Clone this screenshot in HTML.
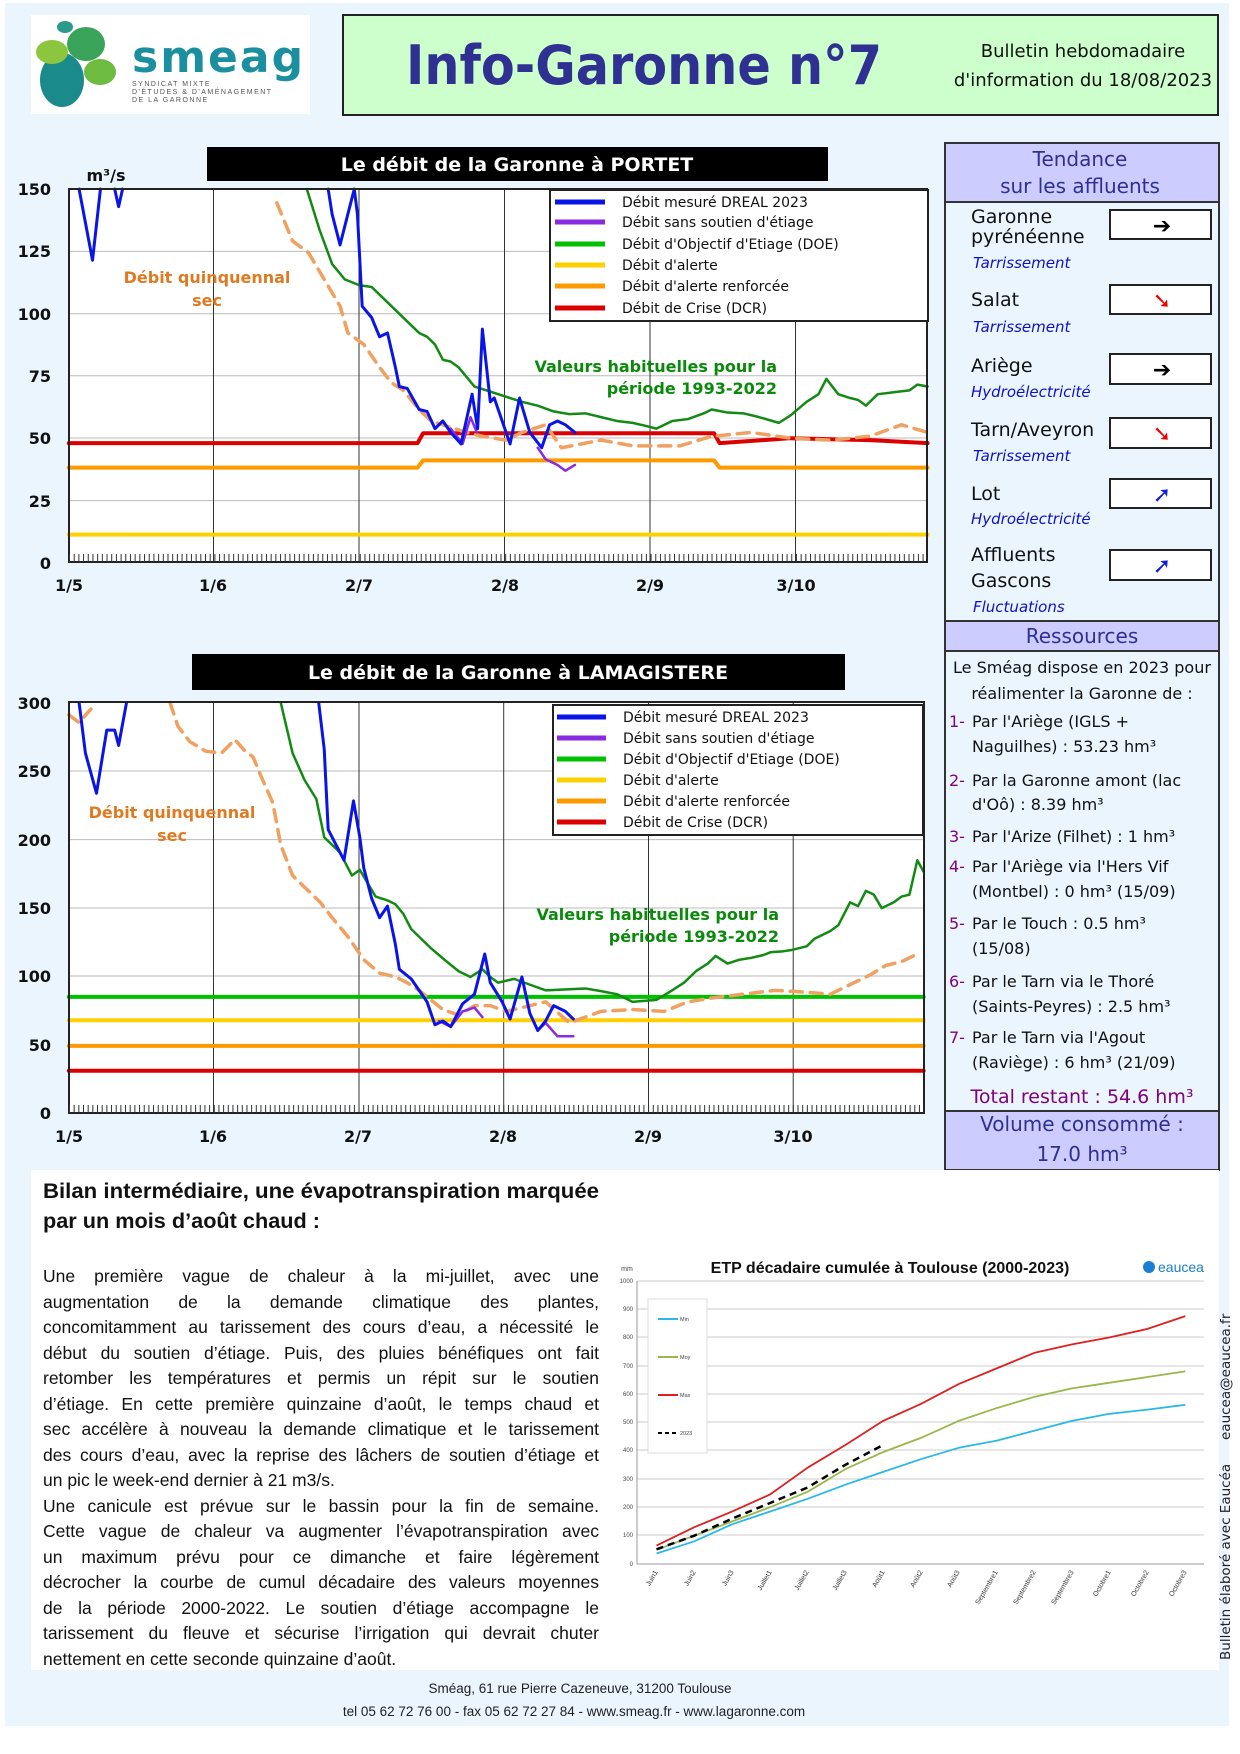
<!DOCTYPE html>
<html><head><meta charset="utf-8">
<style>
html,body{margin:0;padding:0;background:#fff;}
body{width:1240px;height:1754px;position:relative;overflow:hidden;font-family:"Liberation Sans",sans-serif;}
svg{position:absolute;left:0;top:0;}
.para{position:absolute;left:43px;top:1264px;width:556px;font-family:"Liberation Sans",sans-serif;font-size:17.5px;color:#111;}
.para div{height:25.5px;line-height:25.5px;text-align:justify;text-align-last:justify;white-space:nowrap;}
.para div.l{text-align-last:left;}
</style></head><body>
<svg width="1240" height="1754" viewBox="0 0 1240 1754" xmlns="http://www.w3.org/2000/svg" font-family="Liberation Sans, sans-serif">
<rect x="5" y="3" width="1224" height="1723" fill="#eaf5fd"/>
<!-- logo -->
<rect x="31" y="15" width="279" height="99" fill="#fff"/>
<ellipse cx="62" cy="80" rx="22" ry="27" fill="#1a8a8a"/>
<ellipse cx="52" cy="52" rx="16" ry="12" fill="#8cc63f"/>
<ellipse cx="86" cy="44" rx="19" ry="17" fill="#3aa35a"/>
<ellipse cx="100" cy="72" rx="16" ry="13" fill="#6dbb3f"/>
<ellipse cx="65" cy="27" rx="8" ry="6" fill="#2a9a8a"/>
<text x="132" y="72" font-family="DejaVu Sans, sans-serif" font-size="44" font-weight="bold" fill="#1b8fa0" letter-spacing="2">smeag</text>
<text x="132" y="86" font-size="7" fill="#555" letter-spacing="1.5">SYNDICAT MIXTE</text>
<text x="132" y="94" font-size="7" fill="#555" letter-spacing="1.5">D'ÉTUDES &amp; D'AMÉNAGEMENT</text>
<text x="132" y="102" font-size="7" fill="#555" letter-spacing="1.5">DE LA GARONNE</text>
<!-- title box -->
<rect x="343" y="15" width="875" height="100" fill="#ccffcc" stroke="#222" stroke-width="2"/>
<text x="406" y="84" textLength="476" lengthAdjust="spacingAndGlyphs" font-family="DejaVu Sans, sans-serif" font-size="54" font-weight="bold" fill="#2e3192">Info-Garonne n°7</text>
<text x="1083" y="57" text-anchor="middle" font-family="DejaVu Sans, sans-serif" font-size="18" fill="#111">Bulletin hebdomadaire</text>
<text x="1083" y="86" text-anchor="middle" font-family="DejaVu Sans, sans-serif" font-size="18" fill="#111">d'information du 18/08/2023</text>

<!-- ===== Chart 1 ===== -->
<rect x="207" y="147" width="621" height="34" fill="#000"/>
<text x="517" y="171" text-anchor="middle" font-family="DejaVu Sans, sans-serif" font-size="19" font-weight="bold" fill="#fff">Le débit de la Garonne à PORTET</text>
<rect x="69" y="189" width="858" height="373" fill="#fff"/>
<g stroke="#bbb" stroke-width="1">
<line x1="69" y1="251.4" x2="927" y2="251.4"/><line x1="69" y1="313.8" x2="927" y2="313.8"/><line x1="69" y1="375.8" x2="927" y2="375.8"/><line x1="69" y1="438" x2="927" y2="438"/><line x1="69" y1="500.6" x2="927" y2="500.6"/>
</g>
<g stroke="#333" stroke-width="1">
<line x1="213.5" y1="189" x2="213.5" y2="562"/><line x1="359" y1="189" x2="359" y2="562"/><line x1="504.5" y1="189" x2="504.5" y2="562"/><line x1="650" y1="189" x2="650" y2="562"/><line x1="795.5" y1="189" x2="795.5" y2="562"/>
</g>
<g transform="scale(0.7908 0.3827)" fill="none" stroke-linejoin="round" stroke-linecap="round">
<polyline vector-effect="non-scaling-stroke" stroke="#ffd000" stroke-width="4" points="87,1397 1173,1397"/>
<polyline vector-effect="non-scaling-stroke" stroke="#ff9900" stroke-width="4" points="87,1222 528,1222 535,1203 903,1203 910,1222 1173,1222"/>
<polyline vector-effect="non-scaling-stroke" stroke="#dd0000" stroke-width="4" points="87,1158 528,1158 535,1132 903,1132 910,1158 1000,1145 1100,1150 1173,1158"/>
<polyline vector-effect="non-scaling-stroke" stroke="#f0a060" stroke-width="3.5" stroke-dasharray="12,8" points="350,530 370,630 390,660 410,730 430,800 440,870 460,900 480,960 495,1000 510,1020 530,1070 545,1100 560,1110 590,1130 610,1140 640,1150 660,1130 690,1110 710,1170 760,1150 800,1165 860,1165 900,1140 950,1130 1000,1145 1050,1150 1100,1140 1140,1110 1173,1130"/>
<polyline vector-effect="non-scaling-stroke" stroke="#138a13" stroke-width="2.5" points="388,494 404,600 420,690 436,730 454,745 470,750 490,790 505,820 520,850 530,870 540,880 550,900 560,940 570,945 580,960 590,985 600,1010 615,1020 630,1030 645,1040 660,1050 680,1060 700,1075 720,1082 740,1080 760,1090 780,1100 800,1105 815,1112 830,1120 850,1100 870,1095 890,1080 900,1070 920,1078 940,1080 960,1090 985,1105 1000,1085 1020,1050 1035,1030 1045,990 1060,1030 1075,1040 1085,1045 1095,1060 1110,1030 1130,1025 1150,1020 1160,1005 1173,1010"/>
<polyline vector-effect="non-scaling-stroke" stroke="#8a2be2" stroke-width="2.5" points="570,1120 585,1160 595,1090 603,1130"/>
<polyline vector-effect="non-scaling-stroke" stroke="#8a2be2" stroke-width="2.5" points="680,1170 690,1200 705,1215 715,1230 727,1215"/>
<polyline vector-effect="non-scaling-stroke" stroke="#0a14e6" stroke-width="3" points="100,494 117,680 127,494"/>
<polyline vector-effect="non-scaling-stroke" stroke="#0a14e6" stroke-width="3" points="145,494 150,540 155,494"/>
<polyline vector-effect="non-scaling-stroke" stroke="#0a14e6" stroke-width="3" points="415,494 420,560 430,640 448,494 452,560 458,800 470,830 480,880 490,870 500,960 505,1010 515,1015 530,1070 540,1075 550,1120 560,1100 570,1130 583,1160 597,1030 604,1120 610,860 620,1050 625,1040 645,1160 657,1040 670,1130 685,1170 695,1110 705,1100 715,1110 727,1130"/>
</g>
<rect x="69" y="189" width="858" height="373" fill="none" stroke="#222" stroke-width="2"/>
<line x1="69" y1="558" x2="927" y2="558" stroke="#333" stroke-width="8" stroke-dasharray="1,3.69"/>
<g font-family="DejaVu Sans, sans-serif" font-size="16" font-weight="bold" fill="#111" text-anchor="end">
<text x="51" y="195">150</text><text x="51" y="257">125</text><text x="51" y="320">100</text><text x="51" y="382">75</text><text x="51" y="444">50</text><text x="51" y="507">25</text><text x="51" y="569">0</text>
</g>
<g font-family="DejaVu Sans, sans-serif" font-size="16" font-weight="bold" fill="#111" text-anchor="middle">
<text x="69" y="591">1/5</text><text x="213" y="591">1/6</text><text x="359" y="591">2/7</text><text x="505" y="591">2/8</text><text x="650" y="591">2/9</text><text x="796" y="591">3/10</text>
<text x="106" y="181">m³/s</text>
</g>
<rect x="550" y="190" width="378" height="131" fill="#fff" stroke="#222" stroke-width="2"/>
<g stroke-width="5"><line x1="555" y1="202" x2="605" y2="202" stroke="#0a14e6"/><line x1="555" y1="222" x2="605" y2="222" stroke="#8a2be2"/><line x1="555" y1="244" x2="605" y2="244" stroke="#00c000"/><line x1="555" y1="265" x2="605" y2="265" stroke="#ffd000"/><line x1="555" y1="286" x2="605" y2="286" stroke="#ff9900"/><line x1="555" y1="308" x2="605" y2="308" stroke="#dd0000"/></g>
<g font-family="DejaVu Sans, sans-serif" font-size="14" fill="#111">
<text x="622" y="207">Débit mesuré DREAL 2023</text><text x="622" y="227">Débit sans soutien d'étiage</text><text x="622" y="249">Débit d'Objectif d'Etiage (DOE)</text><text x="622" y="270">Débit d'alerte</text><text x="622" y="291">Débit d'alerte renforcée</text><text x="622" y="313">Débit de Crise (DCR)</text>
</g>
<g font-family="DejaVu Sans, sans-serif" font-size="16" font-weight="bold" text-anchor="middle" fill="#e07a20">
<text x="207" y="283">Débit quinquennal</text><text x="207" y="306">sec</text></g>
<g font-family="DejaVu Sans, sans-serif" font-size="16" font-weight="bold" text-anchor="end" fill="#0a8a0a">
<text x="777" y="372">Valeurs habituelles pour la</text><text x="777" y="394">période 1993-2022</text></g>

<!-- ===== Chart 2 ===== -->
<rect x="192" y="654" width="653" height="36" fill="#000"/>
<text x="518" y="679" text-anchor="middle" font-family="DejaVu Sans, sans-serif" font-size="19" font-weight="bold" fill="#fff">Le débit de la Garonne à LAMAGISTERE</text>
<rect x="69" y="702" width="855" height="411" fill="#fff"/>
<g stroke="#bbb" stroke-width="1">
<line x1="69" y1="771" x2="924" y2="771"/><line x1="69" y1="839.6" x2="924" y2="839.6"/><line x1="69" y1="908" x2="924" y2="908"/><line x1="69" y1="976" x2="924" y2="976"/><line x1="69" y1="1044.7" x2="924" y2="1044.7"/>
</g>
<g stroke="#333" stroke-width="1">
<line x1="213.5" y1="702" x2="213.5" y2="1113"/><line x1="359" y1="702" x2="359" y2="1113"/><line x1="503.7" y1="702" x2="503.7" y2="1113"/><line x1="648.5" y1="702" x2="648.5" y2="1113"/><line x1="793.2" y1="702" x2="793.2" y2="1113"/>
</g>
<g transform="translate(0 600) scale(0.7908 0.3827)" fill="none" stroke-linejoin="round" stroke-linecap="round">
<polyline vector-effect="non-scaling-stroke" stroke="#00c000" stroke-width="4" points="87,1037 1168,1037"/>
<polyline vector-effect="non-scaling-stroke" stroke="#ffd000" stroke-width="4" points="87,1098 1168,1098"/>
<polyline vector-effect="non-scaling-stroke" stroke="#ff9900" stroke-width="4" points="87,1165 1168,1165"/>
<polyline vector-effect="non-scaling-stroke" stroke="#dd0000" stroke-width="4" points="87,1230 1168,1230"/>
<polyline vector-effect="non-scaling-stroke" stroke="#f0a060" stroke-width="3.5" stroke-dasharray="12,8" points="87,300 100,320 115,285"/>
<polyline vector-effect="non-scaling-stroke" stroke="#f0a060" stroke-width="3.5" stroke-dasharray="12,8" points="215,268 225,330 240,370 260,395 280,400 297,365 310,395 320,410 330,460 345,530 355,640 370,720 390,760 405,790 420,830 440,880 460,940 480,975 500,985 515,1000 530,1020 560,1070 580,1085 600,1060 620,1060 640,1075 660,1065 690,1050 720,1105 760,1075 800,1070 840,1075 870,1050 900,1040 940,1030 980,1020 1020,1025 1050,1030 1080,1000 1100,980 1120,955 1140,945 1160,925"/>
<polyline vector-effect="non-scaling-stroke" stroke="#138a13" stroke-width="2.5" points="355,268 370,400 385,470 400,520 410,620 430,660 445,720 455,705 465,740 475,775 490,785 500,795 510,820 520,860 535,890 545,910 565,945 580,970 595,985 610,965 620,985 630,1000 650,990 670,1005 690,1020 710,1018 740,1015 760,1022 780,1030 800,1050 830,1045 850,1020 865,1000 880,970 895,950 905,930 920,950 935,940 950,935 965,928 975,920 990,918 1000,915 1020,905 1030,885 1040,875 1050,865 1060,850 1075,790 1085,800 1095,760 1105,770 1115,805 1130,790 1140,775 1150,770 1160,680 1168,710"/>
<polyline vector-effect="non-scaling-stroke" stroke="#8a2be2" stroke-width="2.5" points="555,1100 570,1115 585,1075 600,1065 610,1090"/>
<polyline vector-effect="non-scaling-stroke" stroke="#8a2be2" stroke-width="2.5" points="680,1125 690,1105 705,1140 725,1140"/>
<polyline vector-effect="non-scaling-stroke" stroke="#0a14e6" stroke-width="3" points="100,268 108,400 122,505 135,340 145,340 150,380 160,268"/>
<polyline vector-effect="non-scaling-stroke" stroke="#0a14e6" stroke-width="3" points="403,268 410,390 415,600 425,640 435,680 447,525 455,620 460,700 470,780 480,830 490,800 500,900 505,965 520,990 530,1020 540,1050 550,1110 560,1100 570,1115 585,1055 600,1030 613,925 620,1000 635,1050 645,1095 660,985 670,1080 680,1125 690,1100 700,1060 715,1075 725,1095"/>
</g>
<rect x="69" y="702" width="855" height="411" fill="none" stroke="#222" stroke-width="2"/>
<line x1="69" y1="1109" x2="924" y2="1109" stroke="#333" stroke-width="8" stroke-dasharray="1,3.67"/>
<g font-family="DejaVu Sans, sans-serif" font-size="16" font-weight="bold" fill="#111" text-anchor="end">
<text x="51" y="709">300</text><text x="51" y="777">250</text><text x="51" y="846">200</text><text x="51" y="914">150</text><text x="51" y="982">100</text><text x="51" y="1051">50</text><text x="51" y="1119">0</text>
</g>
<g font-family="DejaVu Sans, sans-serif" font-size="16" font-weight="bold" fill="#111" text-anchor="middle">
<text x="69" y="1142">1/5</text><text x="213" y="1142">1/6</text><text x="358" y="1142">2/7</text><text x="503" y="1142">2/8</text><text x="648" y="1142">2/9</text><text x="793" y="1142">3/10</text>
</g>
<rect x="553" y="705" width="370" height="130" fill="#fff" stroke="#222" stroke-width="2"/>
<g stroke-width="5"><line x1="557" y1="717" x2="606" y2="717" stroke="#0a14e6"/><line x1="557" y1="738" x2="606" y2="738" stroke="#8a2be2"/><line x1="557" y1="759" x2="606" y2="759" stroke="#00c000"/><line x1="557" y1="780" x2="606" y2="780" stroke="#ffd000"/><line x1="557" y1="801" x2="606" y2="801" stroke="#ff9900"/><line x1="557" y1="822" x2="606" y2="822" stroke="#dd0000"/></g>
<g font-family="DejaVu Sans, sans-serif" font-size="14" fill="#111">
<text x="623" y="722">Débit mesuré DREAL 2023</text><text x="623" y="743">Débit sans soutien d'étiage</text><text x="623" y="764">Débit d'Objectif d'Etiage (DOE)</text><text x="623" y="785">Débit d'alerte</text><text x="623" y="806">Débit d'alerte renforcée</text><text x="623" y="827">Débit de Crise (DCR)</text>
</g>
<g font-family="DejaVu Sans, sans-serif" font-size="16" font-weight="bold" text-anchor="middle" fill="#e07a20">
<text x="172" y="818">Débit quinquennal</text><text x="172" y="841">sec</text></g>
<g font-family="DejaVu Sans, sans-serif" font-size="16" font-weight="bold" text-anchor="end" fill="#0a8a0a">
<text x="779" y="920">Valeurs habituelles pour la</text><text x="779" y="942">période 1993-2022</text></g>

<!-- ===== Right panel ===== -->
<rect x="945" y="143" width="274" height="1027" fill="#eaf5fd" stroke="#333" stroke-width="2"/>
<rect x="945" y="143" width="274" height="59" fill="#ccccff" stroke="#333" stroke-width="2"/>
<g font-family="DejaVu Sans, sans-serif" font-size="20" text-anchor="middle" fill="#2e3192">
<text x="1080" y="166">Tendance</text><text x="1080" y="193">sur les affluents</text></g>
<g font-family="DejaVu Sans, sans-serif" font-size="19" fill="#111">
<text x="971" y="223">Garonne</text><text x="971" y="243">pyrénéenne</text>
<text x="971" y="306">Salat</text><text x="971" y="372">Ariège</text><text x="971" y="436">Tarn/Aveyron</text><text x="971" y="500">Lot</text>
<text x="971" y="561">Affluents</text><text x="971" y="587">Gascons</text></g>
<g font-family="DejaVu Sans, sans-serif" font-size="15" font-style="italic" fill="#1010cc">
<text x="973" y="268">Tarrissement</text><text x="973" y="332">Tarrissement</text><text x="971" y="397">Hydroélectricité</text><text x="973" y="461">Tarrissement</text><text x="971" y="524">Hydroélectricité</text><text x="973" y="612">Fluctuations</text></g>
<g fill="#fff" stroke="#222" stroke-width="2">
<rect x="1110" y="210" width="101" height="29"/><rect x="1110" y="285" width="101" height="29"/><rect x="1110" y="354" width="101" height="30"/><rect x="1110" y="418" width="101" height="30"/><rect x="1110" y="479" width="101" height="29"/><rect x="1110" y="550" width="101" height="30"/></g>
<g font-family="DejaVu Sans, sans-serif" font-size="22" font-weight="bold" text-anchor="middle">
<text x="1162" y="233" fill="#000">➔</text><text x="1162" y="308" fill="#ee0000">➘</text><text x="1162" y="377" fill="#000">➔</text><text x="1162" y="441" fill="#ee0000">➘</text><text x="1162" y="502" fill="#1020dd">➚</text><text x="1162" y="573" fill="#1020dd">➚</text></g>
<rect x="945" y="621" width="274" height="30" fill="#ccccff" stroke="#333" stroke-width="2"/>
<text x="1082" y="643" text-anchor="middle" font-family="DejaVu Sans, sans-serif" font-size="20" fill="#2e3192">Ressources</text>
<g font-family="DejaVu Sans, sans-serif" font-size="16" fill="#111">
<text x="1082" y="673" text-anchor="middle">Le Sméag dispose en 2023 pour</text>
<text x="1082" y="699" text-anchor="middle">réalimenter la Garonne de :</text>
<text x="972" y="727">Par l'Ariège (IGLS +</text><text x="972" y="752">Naguilhes) : 53.23 hm³</text>
<text x="972" y="786">Par la Garonne amont (lac</text><text x="972" y="810">d'Oô) : 8.39 hm³</text>
<text x="972" y="842">Par l'Arize (Filhet) : 1 hm³</text>
<text x="972" y="872">Par l'Ariège via l'Hers Vif</text><text x="972" y="897">(Montbel) : 0 hm³ (15/09)</text>
<text x="972" y="929">Par le Touch :  0.5 hm³</text><text x="972" y="954">(15/08)</text>
<text x="972" y="987">Par le Tarn via le Thoré</text><text x="972" y="1012">(Saints-Peyres) : 2.5 hm³</text>
<text x="972" y="1043">Par le Tarn via l'Agout</text><text x="972" y="1068">(Raviège) : 6 hm³ (21/09)</text>
</g>
<g font-family="DejaVu Sans, sans-serif" font-size="16" fill="#800080">
<text x="949" y="727">1-</text><text x="949" y="786">2-</text><text x="949" y="842">3-</text><text x="949" y="872">4-</text><text x="949" y="929">5-</text><text x="949" y="987">6-</text><text x="949" y="1043">7-</text></g>
<text x="1082" y="1103" text-anchor="middle" font-family="DejaVu Sans, sans-serif" font-size="19" fill="#800080">Total restant : 54.6 hm³</text>
<rect x="945" y="1111" width="274" height="59" fill="#ccccff" stroke="#333" stroke-width="2"/>
<g font-family="DejaVu Sans, sans-serif" font-size="20" text-anchor="middle" fill="#2e3192">
<text x="1082" y="1131">Volume consommé  :</text><text x="1082" y="1161">17.0 hm³</text></g>

<!-- ===== bottom ===== -->
<rect x="31" y="1170" width="1188" height="500" fill="#fff"/>
<g font-family="Liberation Sans, sans-serif" font-size="21" font-weight="bold" fill="#111">
<text x="43" y="1198" textLength="556" lengthAdjust="spacingAndGlyphs">Bilan intermédiaire, une évapotranspiration marquée</text>
<text x="43" y="1228" textLength="277" lengthAdjust="spacingAndGlyphs">par un mois d’août chaud :</text></g>
<!-- ETP chart -->
<text x="890" y="1273" text-anchor="middle" font-size="16" font-weight="bold" fill="#111">ETP décadaire cumulée à Toulouse (2000-2023)</text>
<circle cx="1149" cy="1267" r="6" fill="#1a7fd0"/>
<text x="1158" y="1272" font-size="14" fill="#1a7fd0">eaucea</text>
<text x="627" y="1271" font-size="7" fill="#444" text-anchor="middle">mm</text>
<g stroke="#ccc" stroke-width="1">
<line x1="637" y1="1281" x2="1204" y2="1281"/><line x1="637" y1="1309" x2="1204" y2="1309"/><line x1="637" y1="1337" x2="1204" y2="1337"/><line x1="637" y1="1366" x2="1204" y2="1366"/><line x1="637" y1="1394" x2="1204" y2="1394"/><line x1="637" y1="1422" x2="1204" y2="1422"/><line x1="637" y1="1450" x2="1204" y2="1450"/><line x1="637" y1="1479" x2="1204" y2="1479"/><line x1="637" y1="1507" x2="1204" y2="1507"/><line x1="637" y1="1535" x2="1204" y2="1535"/></g>
<line x1="637" y1="1281" x2="637" y2="1564" stroke="#999"/><line x1="637" y1="1564" x2="1204" y2="1564" stroke="#999"/>
<g font-size="6" fill="#444" text-anchor="end">
<text x="633" y="1283">1000</text><text x="633" y="1311">900</text><text x="633" y="1339">800</text><text x="633" y="1368">700</text><text x="633" y="1396">600</text><text x="633" y="1424">500</text><text x="633" y="1452">400</text><text x="633" y="1481">300</text><text x="633" y="1509">200</text><text x="633" y="1537">100</text><text x="633" y="1566">0</text></g>
<rect x="648" y="1299" width="59" height="154" fill="#fff" stroke="#ddd"/>
<g stroke-width="2"><line x1="658" y1="1319" x2="678" y2="1319" stroke="#2ab8e6"/><line x1="658" y1="1357" x2="678" y2="1357" stroke="#9ab84a"/><line x1="658" y1="1395" x2="678" y2="1395" stroke="#dd2020"/><line x1="658" y1="1433" x2="678" y2="1433" stroke="#000" stroke-dasharray="4,3"/></g>
<g font-size="5.5" fill="#444"><text x="680" y="1321">Min</text><text x="680" y="1359">Moy</text><text x="680" y="1397">Max</text><text x="680" y="1435">2023</text></g>
<g fill="none" stroke-linejoin="round">
<polyline stroke="#2ab8e6" stroke-width="1.8" points="656.5,1553.5 694.3,1541.3 732,1524.3 769.8,1511.6 807.6,1498.8 845.4,1484.7 883.1,1471.9 920.9,1459.2 958.7,1447.8 996.4,1440.8 1034.2,1430.8 1072,1420.9 1109.7,1413.8 1147.5,1409.6 1185.3,1404.8"/>
<polyline stroke="#9ab84a" stroke-width="1.8" points="656.5,1549.8 694.3,1535.7 732,1521.5 769.8,1507.3 807.6,1491.8 845.4,1469.1 883.1,1452.1 920.9,1437.9 958.7,1420.9 996.4,1408.2 1034.2,1396.9 1072,1388.4 1109.7,1382.7 1147.5,1377 1185.3,1371.4"/>
<polyline stroke="#dd2020" stroke-width="1.8" points="656.5,1545.6 694.3,1527.2 732,1511.6 769.8,1494.6 807.6,1467.7 845.4,1445 883.1,1420.9 920.9,1403.9 958.7,1384.1 996.4,1368.5 1034.2,1352.9 1072,1344.4 1109.7,1337.4 1147.5,1328.9 1185.3,1316.1"/>
<polyline stroke="#000" stroke-width="2.5" stroke-dasharray="7,5" points="656.5,1549.3 694.3,1535.7 732,1518.7 769.8,1503.1 807.6,1487.5 845.4,1464.8 883.1,1445"/>
</g>
<g font-size="7" fill="#333" text-anchor="end">
<text transform="translate(658 1572) rotate(-60)">Juin1</text><text transform="translate(696 1572) rotate(-60)">Juin2</text><text transform="translate(734 1572) rotate(-60)">Juin3</text><text transform="translate(772 1572) rotate(-60)">Juillet1</text><text transform="translate(809 1572) rotate(-60)">Juillet2</text><text transform="translate(847 1572) rotate(-60)">Juillet3</text><text transform="translate(885 1572) rotate(-60)">Août1</text><text transform="translate(923 1572) rotate(-60)">Août2</text><text transform="translate(960 1572) rotate(-60)">Août3</text><text transform="translate(998 1572) rotate(-60)">Septembre1</text><text transform="translate(1036 1572) rotate(-60)">Septembre2</text><text transform="translate(1074 1572) rotate(-60)">Septembre3</text><text transform="translate(1111 1572) rotate(-60)">Octobre1</text><text transform="translate(1149 1572) rotate(-60)">Octobre2</text><text transform="translate(1187 1572) rotate(-60)">Octobre3</text></g>
<text transform="translate(1230 1660) rotate(-90)" font-family="DejaVu Sans, sans-serif" font-size="13.5" fill="#222">Bulletin élaboré avec Eaucéa</text>
<text transform="translate(1230 1440) rotate(-90)" font-family="DejaVu Sans, sans-serif" font-size="13.5" fill="#222">eaucea@eaucea.fr</text>
<g font-size="13.5" fill="#222" text-anchor="middle">
<text x="580" y="1693">Sméag, 61 rue Pierre Cazeneuve, 31200 Toulouse</text>
<text x="574" y="1716">tel 05 62 72 76 00 - fax 05 62 72 27 84  - www.smeag.fr - www.lagaronne.com</text></g>
</svg>
<div class="para">
<div>Une première vague de chaleur à la mi-juillet, avec une</div>
<div>augmentation de la demande climatique des plantes,</div>
<div>concomitamment au tarissement des cours d’eau, a nécessité le</div>
<div>début du soutien d’étiage. Puis, des pluies bénéfiques ont fait</div>
<div>retomber les températures et permis un répit sur le soutien</div>
<div>d’étiage. En cette première quinzaine d’août, le temps chaud et</div>
<div>sec accélère à nouveau la demande climatique et le tarissement</div>
<div>des cours d’eau, avec la reprise des lâchers de soutien d’étiage et</div>
<div class="l">un pic le week-end dernier à 21 m3/s.</div>
<div>Une canicule est prévue sur le bassin pour la fin de semaine.</div>
<div>Cette vague de chaleur va augmenter l’évapotranspiration avec</div>
<div>un maximum prévu pour ce dimanche et faire légèrement</div>
<div>décrocher la courbe de cumul décadaire des valeurs moyennes</div>
<div>de la période 2000-2022. Le soutien d’étiage accompagne le</div>
<div>tarissement du fleuve et sécurise l’irrigation qui devrait chuter</div>
<div class="l">nettement en cette seconde quinzaine d’août.</div>
</div>
</body></html>
